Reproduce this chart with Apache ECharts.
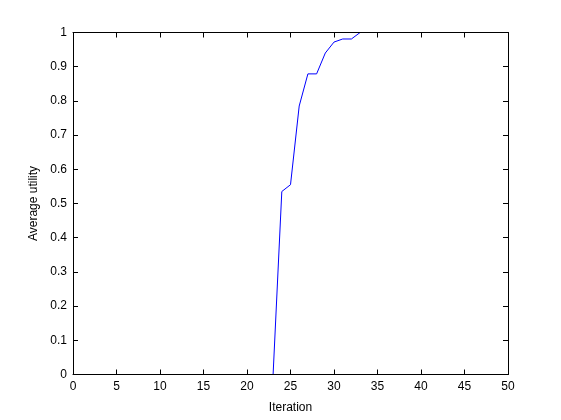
<!DOCTYPE html>
<html>
<head>
<meta charset="utf-8">
<script src="https://cdn.jsdelivr.net/npm/echarts@6/dist/echarts.min.js"></script>
<style>
  html, body { margin: 0; padding: 0; background: #fff; }
  #chart { width: 561px; height: 420px; }
</style>
</head>
<body>
<div id="chart"></div>
<script>
// iterations 1..50
var iterations = [];
for (var i = 1; i <= 50; i++) iterations.push(i);

// average utility
var utility = [
  0, 0, 0, 0, 0, 0, 0, 0, 0, 0,
  0, 0, 0, 0, 0, 0, 0, 0, 0, 0,
  0, 0, 0, 0.535, 0.555, 0.785, 0.879, 0.879, 0.940, 0.972,
  0.981, 0.981, 1, 1, 1, 1, 1, 1, 1, 1,
  1, 1, 1, 1, 1, 1, 1, 1, 1, 1
];

var xTicks = { min: 0, max: 50, interval: 5 };
var yTicks = { min: 0, max: 1, interval: 0.1 };

var points = iterations.map(function (x, k) { return [x, utility[k]]; });

var font = 'Liberation Sans, Arial, sans-serif';
var lineStyle = { color: '#000', width: 1 };
var tick = { show: true, inside: true, length: 5, lineStyle: lineStyle };

// axes drawn over the line, like matlab does
// half pixel grid edges so the 0 and 1 parts of the line sit right under the box
var option = {
  animation: false,
  backgroundColor: '#fff',
  grid: { left: 73, right: 53, top: 32.5, bottom: 45.5, containLabel: false },
  xAxis: [
    {
      type: 'value', min: xTicks.min, max: xTicks.max, interval: xTicks.interval,
      position: 'bottom', z: 10,
      name: 'Iteration', nameLocation: 'middle', nameGap: 27,
      nameTextStyle: { color: '#000', fontSize: 12, fontFamily: font },
      axisLine: { show: true, onZero: false, lineStyle: lineStyle },
      axisTick: tick,
      axisLabel: { color: '#000', fontSize: 12, fontFamily: font, margin: 6 },
      splitLine: { show: false }
    },
    {
      type: 'value', min: xTicks.min, max: xTicks.max, interval: xTicks.interval,
      position: 'top', z: 10,
      axisLine: { show: true, onZero: false, lineStyle: lineStyle },
      axisTick: tick,
      axisLabel: { show: false },
      splitLine: { show: false }
    }
  ],
  yAxis: [
    {
      type: 'value', min: yTicks.min, max: yTicks.max, interval: yTicks.interval,
      position: 'left', z: 10,
      name: 'Average utility', nameLocation: 'middle', nameGap: 32,
      nameTextStyle: { color: '#000', fontSize: 12, fontFamily: font },
      axisLine: { show: true, onZero: false, lineStyle: lineStyle },
      axisTick: tick,
      axisLabel: { color: '#000', fontSize: 12, fontFamily: font, margin: 6 },
      splitLine: { show: false }
    },
    {
      type: 'value', min: yTicks.min, max: yTicks.max, interval: yTicks.interval,
      position: 'right', z: 10,
      axisLine: { show: true, onZero: false, lineStyle: lineStyle },
      axisTick: tick,
      axisLabel: { show: false },
      splitLine: { show: false }
    }
  ],
  series: [
    {
      type: 'line',
      data: points,
      showSymbol: false,
      lineStyle: { color: '#0000ff', width: 1 },
      z: 1
    }
  ]
};

var myChart = echarts.init(document.getElementById('chart'), null, { renderer: 'canvas' });
myChart.setOption(option);
</script>
</body>
</html>
